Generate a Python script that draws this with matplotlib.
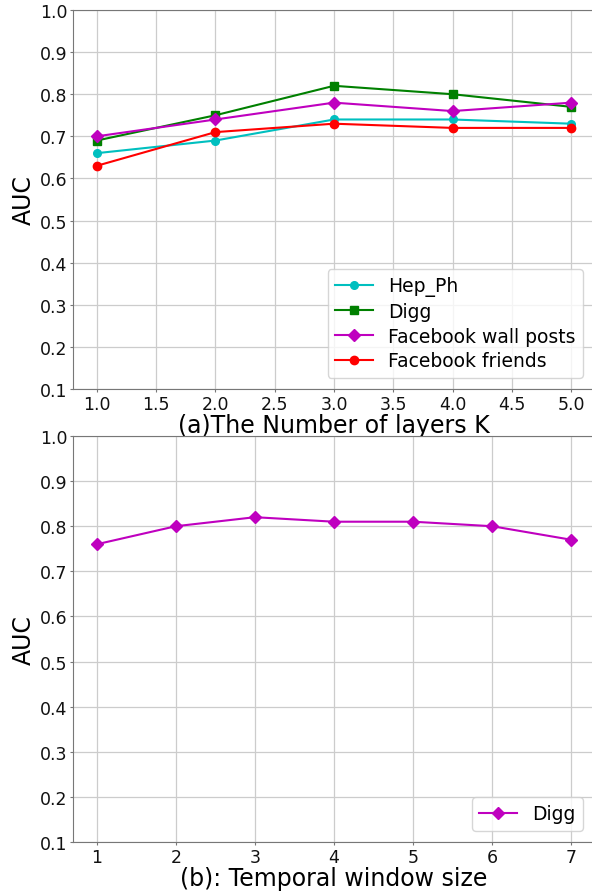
import numpy as np
import matplotlib
matplotlib.use("Agg")
import matplotlib.pyplot as plt

# --- data -------------------------------------------------------------------
layers_k = [1.0, 2.0, 3.0, 4.0, 5.0]
auc_hep_ph = [0.66, 0.69, 0.74, 0.74, 0.73]
auc_digg = [0.69, 0.75, 0.82, 0.80, 0.77]
auc_fb_wall = [0.70, 0.74, 0.78, 0.76, 0.78]
auc_fb_friends = [0.63, 0.71, 0.73, 0.72, 0.72]

window_size = [1, 2, 3, 4, 5, 6, 7]
auc_digg_window = [0.76, 0.80, 0.82, 0.81, 0.81, 0.80, 0.77]

W, H = 592, 895
fig = plt.figure(figsize=(W / 100, H / 100), dpi=100)

def px_axes(left, top, right, bottom):
    return fig.add_axes([left / W, 1 - bottom / H, (right - left) / W, (bottom - top) / H])

def style(ax):
    ax.grid(True, color="#cccccc", linewidth=0.9)
    ax.set_axisbelow(True)
    for s in ("left", "top", "bottom"):
        ax.spines[s].set_color("#777777")
    ax.spines["right"].set_visible(False)
    ax.tick_params(labelsize=12.5, colors="#111111", length=2.5, pad=1.5, color="#777777")
    ax.set_ylim(0.1, 1.0)
    ax.set_yticks(np.arange(0.1, 1.01, 0.1))
    ax.set_ylabel("AUC", fontsize=17, labelpad=3)

# --- (a) --------------------------------------------------------------------
ax1 = px_axes(73, 11, 595, 390)
ax1.plot(layers_k, auc_hep_ph, color="c", marker="o", markersize=5.5, label="Hep_Ph")
ax1.plot(layers_k, auc_digg, color="g", marker="s", markersize=6, label="Digg")
ax1.plot(layers_k, auc_fb_wall, color="m", marker="D", markersize=6, label="Facebook wall posts")
ax1.plot(layers_k, auc_fb_friends, color="r", marker="o", markersize=6, label="Facebook friends")
style(ax1)
ax1.set_xlim(0.8, 5.2)
ax1.set_xticks(np.arange(1.0, 5.01, 0.5))
ax1.set_xlabel("(a)The Number of layers K", fontsize=17, labelpad=0)
ax1.legend(loc="lower right", bbox_to_anchor=(0.998, 0.0), fontsize=13.5,
           borderaxespad=0.6, labelspacing=0.3)

# --- (b) --------------------------------------------------------------------
ax2 = px_axes(73, 437, 595, 843)
ax2.plot(window_size, auc_digg_window, color="m", marker="D", markersize=6, label="Digg")
style(ax2)
ax2.set_xlim(0.7, 7.3)
ax2.set_xticks(window_size)
ax2.set_xlabel("(b): Temporal window size", fontsize=17, labelpad=0)
ax2.legend(loc="lower right", bbox_to_anchor=(0.998, 0.0), fontsize=13.5,
           borderaxespad=0.6, labelspacing=0.3)

fig.savefig("out.png", dpi=100)
